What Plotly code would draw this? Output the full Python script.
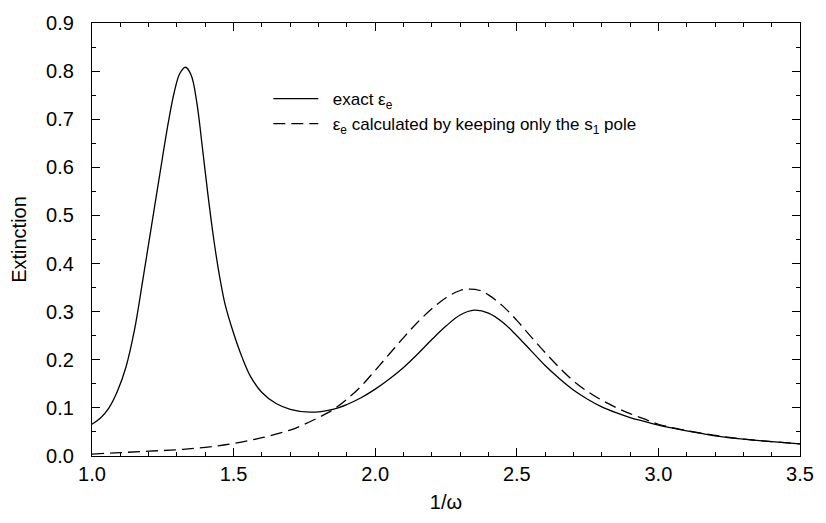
import plotly.graph_objects as go

# exact extinction (solid)
x_exact = [1.00, 1.03, 1.06, 1.09, 1.12, 1.15, 1.18, 1.21, 1.24, 1.27, 1.29, 1.31, 1.33,
           1.35, 1.37, 1.39, 1.41, 1.43, 1.45, 1.47, 1.50, 1.53, 1.56, 1.60, 1.65, 1.70,
           1.77, 1.85, 1.90, 1.95, 2.00, 2.05, 2.10, 2.15, 2.20, 2.25, 2.30, 2.35, 2.40,
           2.45, 2.50, 2.55, 2.60, 2.65, 2.70, 2.75, 2.80, 2.85, 2.90, 2.95, 3.00, 3.10,
           3.20, 3.30, 3.40, 3.50]
y_exact = [0.066, 0.079, 0.100, 0.135, 0.185, 0.262, 0.368, 0.478, 0.588, 0.695, 0.755,
           0.795, 0.808, 0.792, 0.735, 0.640, 0.540, 0.450, 0.375, 0.315, 0.255, 0.205,
           0.165, 0.132, 0.109, 0.097, 0.091, 0.097, 0.107, 0.121, 0.139, 0.160, 0.184,
           0.212, 0.242, 0.270, 0.293, 0.303, 0.297, 0.278, 0.250, 0.219, 0.188, 0.161,
           0.137, 0.118, 0.102, 0.090, 0.080, 0.072, 0.064, 0.052, 0.042, 0.035, 0.030,
           0.025]

# s1 pole only (dashed)
x_pole = [1.00, 1.10, 1.20, 1.30, 1.40, 1.50, 1.60, 1.70, 1.75, 1.80, 1.85, 1.90, 1.95,
          2.00, 2.05, 2.10, 2.15, 2.20, 2.25, 2.30, 2.33, 2.37, 2.40, 2.45, 2.50, 2.55,
          2.60, 2.65, 2.70, 2.75, 2.80, 2.85, 2.90, 2.95, 3.00, 3.10, 3.20, 3.30, 3.40,
          3.50]
y_pole = [0.004, 0.007, 0.010, 0.013, 0.018, 0.026, 0.038, 0.054, 0.066, 0.080, 0.096,
          0.118, 0.145, 0.178, 0.212, 0.246, 0.278, 0.306, 0.329, 0.344, 0.347, 0.344,
          0.335, 0.312, 0.282, 0.248, 0.215, 0.184, 0.156, 0.134, 0.116, 0.101, 0.088,
          0.077, 0.066, 0.053, 0.043, 0.035, 0.030, 0.025]

x_ticks = [1.0, 1.5, 2.0, 2.5, 3.0, 3.5]
y_ticks = [0.0, 0.1, 0.2, 0.3, 0.4, 0.5, 0.6, 0.7, 0.8, 0.9]

FONT = "Liberation Sans, Arial, Helvetica, sans-serif"
GAP = "\u00a0\u00a0"

fig = go.Figure()
fig.add_trace(go.Scatter(
    x=x_exact, y=y_exact, mode="lines", name=GAP + "exact ε<sub>e</sub>",
    line=dict(color="black", width=1.3, shape="spline", smoothing=1.0)))
fig.add_trace(go.Scatter(
    x=x_pole, y=y_pole, mode="lines",
    name=GAP + "ε<sub>e</sub> calculated by keeping only the s<sub>1</sub> pole",
    line=dict(color="black", width=1.3, dash="12px,6px", shape="spline", smoothing=1.0)))

axis_common = dict(
    showline=True, linecolor="black", linewidth=1.2, mirror="ticks",
    ticks="inside", ticklen=8, tickcolor="black", tickwidth=1,
    showgrid=False, zeroline=False,
    tickfont=dict(family=FONT, size=20, color="black"),
    title_font=dict(family=FONT, size=20, color="black"),
)

fig.update_xaxes(
    range=[1.0, 3.5], tickvals=x_ticks, tickformat=".1f",
    minor=dict(dtick=0.1, ticks="inside", ticklen=4, tickcolor="black"),
    title_text="1/ω", title_standoff=10, **axis_common)
fig.update_yaxes(
    range=[0.0, 0.9], tickvals=y_ticks, tickformat=".1f",
    minor=dict(dtick=0.05, ticks="inside", ticklen=4, tickcolor="black"),
    title_text="Extinction", title_standoff=14, ticklabelstandoff=13, **axis_common)

fig.update_layout(
    width=826, height=523,
    margin=dict(l=92, r=15, t=14, b=67),
    paper_bgcolor="white", plot_bgcolor="white",
    font=dict(family=FONT, color="black"),
    showlegend=True,
    legend=dict(x=0.249, y=0.866, xanchor="left", yanchor="top",
                bgcolor="rgba(0,0,0,0)", borderwidth=0, itemwidth=45,
                font=dict(family=FONT, size=17, color="black"),
                tracegroupgap=0),
)

fig.write_html("out.html")
